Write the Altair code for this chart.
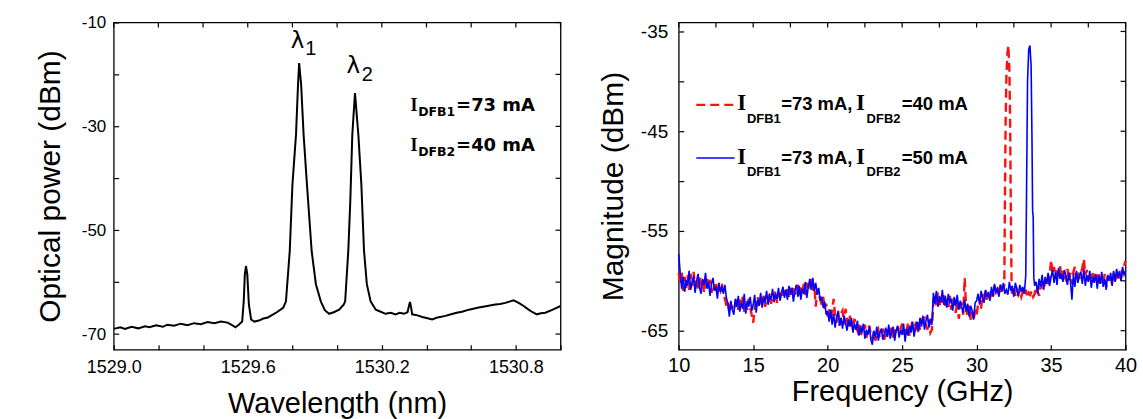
import altair as alt
import numpy as np
import pandas as pd

# ---------------- Left panel: optical spectrum ----------------
wl_nm = [1529.00, 1529.03, 1529.05, 1529.08, 1529.11, 1529.14, 1529.16, 1529.19, 1529.22, 1529.24,
         1529.27, 1529.30, 1529.33, 1529.36, 1529.39, 1529.42, 1529.45, 1529.48, 1529.51, 1529.53,
         1529.545, 1529.56, 1529.575, 1529.582, 1529.587, 1529.592, 1529.598, 1529.605, 1529.615, 1529.63,
         1529.65, 1529.67, 1529.69, 1529.71, 1529.73, 1529.75, 1529.759, 1529.771, 1529.788, 1529.800,
         1529.816, 1529.825, 1529.830, 1529.839, 1529.850, 1529.865, 1529.886, 1529.905, 1529.927, 1529.945,
         1529.964, 1529.985, 1530.009, 1530.030, 1530.036, 1530.050, 1530.059, 1530.068, 1530.080, 1530.095,
         1530.1085, 1530.1205, 1530.133, 1530.150, 1530.173, 1530.19, 1530.217, 1530.24, 1530.262, 1530.28,
         1530.299, 1530.315, 1530.322, 1530.326, 1530.331, 1530.336, 1530.36, 1530.381, 1530.40, 1530.4256,
         1530.45, 1530.485, 1530.51, 1530.535, 1530.559, 1530.59, 1530.634, 1530.66, 1530.708, 1530.73,
         1530.753, 1530.775, 1530.790, 1530.8125, 1530.835, 1530.857, 1530.875, 1530.894, 1530.912, 1530.932,
         1530.96, 1530.98, 1531.0]
power_dbm = [-69.0, -68.7, -69.0, -68.6, -68.9, -68.5, -68.7, -68.3, -68.6, -68.2,
             -68.4, -68.0, -68.3, -67.9, -68.1, -67.7, -67.9, -67.6, -67.8, -68.3,
             -68.7, -68.2, -67.6, -63.7, -58.5, -56.9, -58.5, -64.3, -67.2, -67.6,
             -67.4, -67.0, -66.8, -66.3, -65.8, -65.2, -64.9, -63.7, -54.0, -41.2,
             -31.6, -22.0, -17.8, -22.0, -31.6, -41.2, -54.0, -60.4, -63.7, -65.4,
             -66.1, -65.8, -65.3, -64.3, -63.7, -54.0, -44.4, -31.6, -23.6, -31.6,
             -41.2, -54.0, -60.4, -63.7, -65.3, -65.6, -66.1, -65.9, -66.2, -65.9,
             -66.1, -65.8, -64.5, -63.8, -64.8, -66.2, -66.4, -66.7, -66.9, -67.2,
             -66.8, -66.5, -66.2, -65.9, -65.7, -65.3, -64.9, -64.7, -64.3, -64.2,
             -64.0, -63.7, -63.5, -64.0, -64.6, -65.3, -65.8, -66.2, -66.0, -65.9,
             -65.4, -65.0, -64.6]

left_xticks = [1529.0, 1529.2, 1529.4, 1529.6, 1529.8, 1530.0, 1530.2, 1530.4, 1530.6, 1530.8, 1531.0]
left_yticks = [-70, -60, -50, -40, -30, -20, -10]

# ---------------- Right panel: beat-note spectra (0.1 GHz sample step) ----------------
step_ghz = 0.1

red_seg1_start = 10.0
red_seg1_db = [
    -59.2, -60.4, -59.0, -61.0, -59.6, -60.7, -59.4, -60.9, -59.3, -60.5,
    -59.1, -60.6, -59.7, -61.0, -59.5, -60.3, -59.9, -61.2, -60.0, -59.6,
    -60.8, -59.9, -61.2, -60.4, -60.9, -60.1, -61.3, -60.6, -61.0, -60.3,
    -61.4, -61.8, -62.5, -62.1, -63.2, -62.4, -62.8, -63.0, -62.2, -61.8,
    -62.9, -61.9, -62.6, -61.6, -63.1, -62.3, -62.9, -61.8, -62.7, -63.4,
    -64.2, -62.8, -62.0, -61.6, -62.7, -61.8, -62.4, -61.5, -62.6, -61.9,
    -62.1, -61.3, -62.3, -61.6, -61.9, -61.0, -62.2, -61.5, -61.7, -60.9,
    -61.5, -60.7, -61.3, -60.6, -61.6, -60.9, -61.2, -60.5, -61.4, -60.8,
    -60.4, -61.5, -60.7, -61.2, -60.3, -61.4, -60.2, -61.0, -60.6, -59.6,
    -61.1, -60.3, -62.6, -60.8, -61.4, -61.8, -62.4, -61.6, -62.8, -62.3,
    -63.6, -62.8, -64.0, -63.1, -61.8, -63.5, -64.2, -63.0, -64.5, -63.3,
    -63.0, -64.4, -62.8, -63.9, -64.7, -63.5, -64.1, -64.9, -63.8, -64.6,
    -65.0, -64.2, -65.6, -64.8, -65.2, -64.4, -65.7, -65.0, -64.5, -65.4,
    -65.8, -65.1, -66.0, -65.3, -64.9, -65.7, -65.2, -64.8, -65.9, -65.1,
    -65.6, -64.7, -65.3, -64.5, -65.8, -64.9, -65.4, -64.6, -65.2, -64.8,
    -64.3, -65.4, -64.6, -65.0, -64.2, -65.5, -64.7, -64.0, -65.1, -64.4,
    -64.8, -64.0, -64.9, -63.8, -64.5, -63.6, -64.4, -64.9, -63.9, -65.2,
    -64.9, -62.0, -61.4, -62.5, -61.1, -62.7, -61.6, -62.2, -61.3, -62.5,
    -61.9, -62.6, -61.5, -62.9, -61.8, -62.4, -63.2, -62.0, -63.8, -62.7,
    -62.2, -63.4, -59.7, -62.8, -63.6, -62.5, -63.9, -63.1, -64.0, -62.9,
    -63.4, -62.4, -61.7, -62.8, -61.3, -62.2, -61.0, -61.9, -61.2, -61.7,
    -60.8, -61.6, -60.5, -61.3, -60.7, -61.5, -60.4, -61.1, -60.6]
red_peak_ghz = [31.86, 31.90, 31.95, 32.00, 32.07, 32.13, 32.20, 32.25, 32.30, 32.35]
red_peak_db = [-60.5, -52.0, -44.0, -39.5, -37.2, -36.4, -38.8, -44.0, -53.0, -60.8]
red_seg2_start = 32.4
red_seg2_db = [
    -61.3, -60.7, -61.5, -60.9, -61.4, -61.0,
    -61.6, -61.1, -61.5, -60.9, -61.7, -61.2, -61.4, -61.0, -61.6, -61.3,
    -60.6, -61.1, -61.5, -60.4, -60.9, -60.1, -60.7, -59.8, -60.5, -59.6,
    -57.9, -59.3, -58.6, -59.7, -58.8, -59.5, -58.5, -59.9, -59.0, -59.6,
    -59.9, -58.8, -60.0, -59.2, -60.3, -59.1, -58.6, -59.7, -59.0, -59.8,
    -59.3, -58.7, -57.8, -59.4, -58.9, -60.0, -59.2, -59.8, -59.0, -60.2,
    -59.4, -60.3, -59.1, -60.5, -59.6, -60.2, -59.3, -60.6, -59.5, -60.1,
    -59.6, -60.4, -59.2, -60.0, -59.4, -59.9, -59.0, -59.7, -58.9, -58.5,
    -58.0]

blue_seg1_start = 10.0
blue_seg1_db = [
    -57.3, -59.2, -60.8, -59.6, -61.1, -59.9, -60.5, -59.0, -60.9, -60.2,
    -59.5, -61.2, -60.0, -59.3, -60.7, -61.3, -59.8, -60.4, -59.2, -60.8,
    -60.1, -61.5, -60.3, -59.7, -61.0, -60.6, -61.8, -60.2, -61.1, -60.5,
    -61.3, -60.4, -61.7, -62.3, -63.6, -62.0, -62.9, -63.4, -61.8, -62.6,
    -61.5, -63.1, -62.2, -62.8, -61.3, -63.3, -62.0, -62.6, -61.6, -63.0,
    -62.4, -61.4, -63.2, -61.9, -62.5, -61.2, -62.7, -61.6, -62.2, -61.0,
    -62.4, -61.5, -61.9, -60.8, -62.1, -61.3, -61.8, -60.7, -62.0, -61.2,
    -60.6, -61.7, -60.9, -61.9, -60.5, -61.4, -60.7, -62.1, -61.0, -60.4,
    -61.6, -60.5, -61.9, -60.8, -61.3, -60.1, -61.7, -60.6, -59.8, -60.9,
    -59.7, -61.0, -60.2, -61.4, -60.7, -62.0, -61.6, -62.7, -62.1, -63.4,
    -63.0, -64.1, -62.9, -64.4, -63.3, -64.7, -63.6, -63.1, -64.5, -63.7,
    -64.8, -63.5, -64.2, -65.0, -63.9, -64.6, -63.7, -65.2, -64.3, -64.9,
    -64.0, -65.5, -64.7, -65.1, -64.3, -65.8, -64.9, -65.4, -64.6, -65.9,
    -66.4, -65.0, -65.7, -64.6, -66.0, -65.2, -64.8, -65.9, -65.3, -64.7,
    -65.6, -64.4, -65.8, -65.1, -64.6, -66.0, -65.0, -64.5, -65.7, -64.9,
    -65.4, -64.3, -66.1, -64.8, -65.5, -64.5, -65.2, -64.1, -65.6, -64.7,
    -64.1, -65.1, -63.7, -64.6, -63.5, -64.9, -64.0, -63.4, -64.7, -63.8,
    -64.4, -61.2, -62.3, -61.0, -62.6, -61.7, -62.1, -60.9, -62.4, -61.5,
    -62.7, -61.3, -62.2, -61.8, -63.0, -61.6, -62.5, -61.4, -62.9, -62.0,
    -62.6, -63.2, -61.9, -63.1, -62.3, -63.6, -62.5, -63.0, -63.9, -62.2,
    -62.0, -61.3, -62.4, -61.0, -61.8, -62.2, -60.9, -61.6, -61.1, -62.0,
    -60.6, -61.5, -60.3, -61.2, -60.8, -61.6, -60.4, -61.0, -60.2, -61.3,
    -60.9, -61.4, -60.1, -61.0, -60.5, -61.6, -60.2, -60.8, -61.5, -60.4,
    -61.1, -60.6, -61.3]
blue_peak_ghz = [33.30, 33.36, 33.42, 33.50, 33.58, 33.66, 33.72, 33.76, 33.80, 33.84, 33.90]
blue_peak_db = [-59.5, -50.0, -40.0, -36.8, -36.4, -38.5, -46.0, -53.0, -53.6, -59.7, -60.5]
blue_seg2_start = 34.0
blue_seg2_db = [
    -60.1, -61.3, -59.8, -60.6, -59.4, -60.9, -59.6, -60.3, -59.2, -60.5,
    -59.6, -58.9, -60.2, -59.1, -60.4, -58.7, -59.8, -59.3, -60.1, -58.9,
    -59.5, -60.4, -59.2, -60.0, -61.9, -59.3, -60.6, -59.0, -60.2, -59.5,
    -59.1, -60.3, -58.8, -60.5, -59.4, -60.1, -59.0, -60.7, -59.6, -60.2,
    -59.3, -60.8, -59.5, -60.3, -59.1, -60.6, -59.8, -60.9, -59.4, -60.0,
    -59.2, -60.5, -59.0, -60.1, -58.8, -59.7, -59.1, -60.0, -58.6, -59.4,
    -59.0]

right_xticks = [10, 12.5, 15, 17.5, 20, 22.5, 25, 27.5, 30, 32.5, 35, 37.5, 40]
right_yticks = [-65, -60, -55, -50, -45, -40, -35]


def seg(start, vals):
    return [round(start + step_ghz * i, 3) for i in range(len(vals))]


red_f = seg(red_seg1_start, red_seg1_db) + red_peak_ghz + seg(red_seg2_start, red_seg2_db)
red_v = red_seg1_db + red_peak_db + red_seg2_db
blue_f = seg(blue_seg1_start, blue_seg1_db) + blue_peak_ghz + seg(blue_seg2_start, blue_seg2_db)
blue_v = blue_seg1_db + blue_peak_db + blue_seg2_db

df_left = pd.DataFrame({"wl": wl_nm, "p": power_dbm})
df_red = pd.DataFrame({"f": red_f, "m": red_v, "i": range(len(red_f))})
df_blue = pd.DataFrame({"f": blue_f, "m": blue_v, "i": range(len(blue_f))})

W, H = 448, 328
TL = 5
SANS = "Liberation Sans"
SERIF = "Liberation Serif"

ax_common = dict(grid=False, domain=False, tickSize=TL, offset=-TL, tickColor="black", tickWidth=1.2,
                 labelColor="black", titleColor="black", labelFont=SANS, titleFont=SANS,
                 titleFontWeight="normal", labelFlush=False, labelOverlap=False, labelBound=False)

# ---------------- Left chart ----------------
xs_l = alt.Scale(domain=[1529.0, 1531.0], nice=False, zero=False)
ys_l = alt.Scale(domain=[-73, -10], nice=False, zero=False)
x_l = alt.X("wl:Q", scale=xs_l, axis=alt.Axis(
    title="Wavelength (nm)", values=left_xticks,
    labelExpr="indexof([0,3,6,9], round((datum.value-1529)*5)) >= 0 ? format(datum.value, '.1f') : ''",
    labelFontSize=18, titleFontSize=29, labelPadding=9, titlePadding=13, **ax_common))
y_l = alt.Y("p:Q", scale=ys_l, axis=alt.Axis(
    title="Optical power (dBm)", values=left_yticks,
    labelExpr="(datum.value + 70) % 20 == 0 ? '' + datum.value : ''",
    labelFontSize=17, titleFontSize=30, labelPadding=8, titlePadding=16, **ax_common))

left_line = alt.Chart(df_left).mark_line(color="black", strokeWidth=2).encode(x=x_l, y=y_l)

df_lx = pd.DataFrame({"wl": left_xticks})
df_ly = pd.DataFrame({"p": left_yticks})
left_top = alt.Chart(df_lx).mark_rule(color="black", strokeWidth=1.2).encode(
    x=x_l, y=alt.value(0), y2=alt.value(TL))
left_right = alt.Chart(df_ly).mark_rule(color="black", strokeWidth=1.2).encode(
    y=y_l, x=alt.value(W), x2=alt.value(W - TL))


def txt(x, y, s, font=SANS, size=17, weight="normal", align="left", dx=0, dy=0):
    return alt.Chart().mark_text(font=font, fontSize=size, fontWeight=weight, align=align,
                                 baseline="alphabetic", color="black", dx=dx, dy=dy).encode(
        x=alt.datum(x), y=alt.datum(y), text=alt.value(s))


left_texts = [
    txt(1529.823, -14.94, "λ", font="DejaVu Sans", size=23, align="center"),
    txt(1529.857, -16.2, "1", size=20),
    txt(1530.072, -19.75, "λ", font="DejaVu Sans", size=23, align="center"),
    txt(1530.110, -21.35, "2", size=20),
    # I_DFB1=73 mA
    txt(1530.329, -27.1, "I", font=SERIF, size=18, weight="bold"),
    txt(1530.329, -27.1, "DFB1", font="DejaVu Sans", size=12.5, weight="bold", dx=7.6, dy=5),
    txt(1530.329, -27.1, "=73 mA", font="DejaVu Sans", size=18, weight="bold", dx=45.6),
    # I_DFB2=40 mA
    txt(1530.329, -34.8, "I", font=SERIF, size=18, weight="bold"),
    txt(1530.329, -34.8, "DFB2", font="DejaVu Sans", size=12.5, weight="bold", dx=7.6, dy=5),
    txt(1530.329, -34.8, "=40 mA", font="DejaVu Sans", size=18, weight="bold", dx=45.6),
]

left = alt.layer(left_line, left_top, left_right, *left_texts).properties(width=W, height=H)

# ---------------- Right chart ----------------
xs_r = alt.Scale(domain=[10, 40], nice=False, zero=False)
ys_r = alt.Scale(domain=[-66.9, -34.1], nice=False, zero=False)

x_r = alt.X("f:Q", scale=xs_r, axis=alt.Axis(
    title="Frequency (GHz)", values=right_xticks,
    labelExpr="datum.value % 5 == 0 ? '' + datum.value : ''",
    labelFontSize=20, titleFontSize=29, labelPadding=6, titlePadding=2, **ax_common))
y_r = alt.Y("m:Q", scale=ys_r, axis=alt.Axis(
    title="Magnitude (dBm)", values=right_yticks,
    labelExpr="(datum.value + 65) % 10 == 0 ? '' + datum.value : ''",
    labelFontSize=19, titleFontSize=30, labelPadding=11, titlePadding=12, **ax_common))

red_line = alt.Chart(df_red).mark_line(color="#ff1010", strokeWidth=2.4, strokeDash=[9, 5]).encode(
    x=x_r, y=y_r, order="i:Q")
blue_line = alt.Chart(df_blue).mark_line(color="#0000ff", strokeWidth=1.6).encode(
    x=x_r, y=y_r, order="i:Q")

df_rx = pd.DataFrame({"f": right_xticks})
df_ry = pd.DataFrame({"m": right_yticks})
right_top = alt.Chart(df_rx).mark_rule(color="black", strokeWidth=1.2).encode(
    x=x_r, y=alt.value(0), y2=alt.value(TL))
right_right = alt.Chart(df_ry).mark_rule(color="black", strokeWidth=1.2).encode(
    y=y_r, x=alt.value(W), x2=alt.value(W - TL))

leg_red = alt.Chart().mark_rule(color="#ff1010", strokeWidth=2.4, strokeDash=[9, 5]).encode(
    x=alt.datum(11.18), x2=alt.datum(13.75), y=alt.datum(-42.36))
leg_blue = alt.Chart().mark_rule(color="#0000ff", strokeWidth=1.5).encode(
    x=alt.datum(11.18), x2=alt.datum(13.75), y=alt.datum(-47.69))


def legend_row(y, second):
    return [
        txt(13.93, y, "I", font=SERIF, size=23, weight="bold"),
        txt(13.93, y, "DFB1", size=13, weight="bold", dx=9.7, dy=12.3),
        txt(13.93, y, "=73 mA,", size=18.5, weight="bold", dx=44),
        txt(13.93, y, "I", font=SERIF, size=23, weight="bold", dx=119),
        txt(13.93, y, "DFB2", size=13, weight="bold", dx=129.7, dy=12.3),
        txt(13.93, y, second, size=18.5, weight="bold", dx=165),
    ]


right_texts = legend_row(-42.9, "=40 mA") + legend_row(-48.26, "=50 mA")

right = alt.layer(red_line, blue_line, right_top, right_right, leg_red, leg_blue,
                  *right_texts).properties(width=W, height=H)

chart = alt.hconcat(left, right, spacing=31.5).configure_view(
    stroke="black", strokeWidth=1.3).properties(padding={"left": 34, "top": 12, "right": 5, "bottom": 2})

chart.save("out.html", embed_options={"renderer": "svg", "actions": False})
